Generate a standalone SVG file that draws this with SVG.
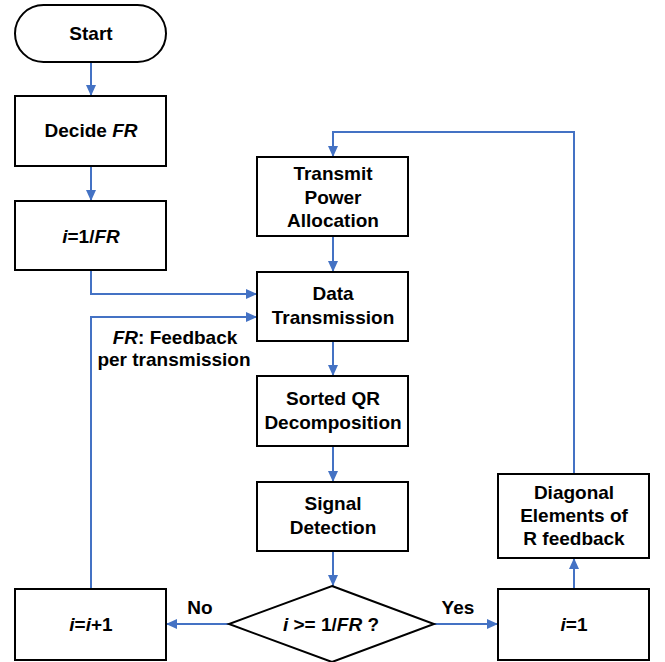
<svg xmlns="http://www.w3.org/2000/svg" width="665" height="662" viewBox="0 0 665 662">
<style>
.box{fill:#fff;stroke:#000;stroke-width:2}
.t{font-family:"Liberation Sans",Arial,sans-serif;font-weight:bold;font-size:19px;fill:#000;text-anchor:middle}
.it{font-style:italic}
.c{fill:none;stroke:#4472C4;stroke-width:2;marker-end:url(#ah)}
</style>
<defs>
<marker id="ah" markerUnits="userSpaceOnUse" markerWidth="12" markerHeight="12" viewBox="0 0 12 12" refX="11" refY="6" orient="auto">
<path d="M0,1 L11,6 L0,11 Z" fill="#4472C4"/>
</marker>
</defs>
<rect width="665" height="662" fill="#fff"/>
<g id="connectors">
<path class="c" d="M91,62 V96"/>
<path class="c" d="M91,166 V201"/>
<path class="c" d="M91,270 V294 H257"/>
<path class="c" d="M333,236 V272"/>
<path class="c" d="M333,341 V376"/>
<path class="c" d="M333,446 V482"/>
<path class="c" d="M333,551 V586"/>
<path class="c" d="M229,624 H166"/>
<path class="c" d="M434,624 H498"/>
<path class="c" d="M574,589 V558"/>
<path class="c" d="M574,474 V132 H333 V157"/>
<path class="c" d="M91,589 V317 H257"/>
</g>
<g id="start"><rect class="box" x="15" y="5" width="151" height="57" rx="28.5"/><text class="t" x="91" y="40">Start</text></g>
<g id="decide"><rect class="box" x="15" y="96" width="151" height="70"/><text class="t" x="91" y="137">Decide <tspan class="it">FR</tspan></text></g>
<g id="init"><rect class="box" x="15" y="201" width="151" height="69"/><text class="t" x="91" y="243"><tspan class="it">i</tspan>=1/<tspan class="it">FR</tspan></text></g>
<g id="transmit"><rect class="box" x="257" y="157" width="151" height="79"/><text class="t" x="333" y="180">Transmit</text><text class="t" x="333" y="203.5">Power</text><text class="t" x="333" y="227">Allocation</text></g>
<g id="data"><rect class="box" x="257" y="272" width="151" height="69"/><text class="t" x="333" y="300">Data</text><text class="t" x="333" y="324">Transmission</text></g>
<g id="sorted"><rect class="box" x="257" y="376" width="151" height="70"/><text class="t" x="333" y="405">Sorted QR</text><text class="t" x="333" y="429">Decomposition</text></g>
<g id="signal"><rect class="box" x="257" y="482" width="151" height="69"/><text class="t" x="333" y="510">Signal</text><text class="t" x="333" y="534">Detection</text></g>
<g id="decision"><polygon class="box" points="332,586 434,624 332,662 229,624"/><text class="t" x="331" y="631"><tspan class="it">i</tspan> &gt;= 1/<tspan class="it">FR</tspan> ?</text></g>
<g id="incr"><rect class="box" x="15" y="589" width="151" height="71"/><text class="t" x="91" y="631"><tspan class="it">i</tspan>=<tspan class="it">i</tspan>+1</text></g>
<g id="reset"><rect class="box" x="498" y="589" width="151" height="71"/><text class="t" x="574" y="631"><tspan class="it">i</tspan>=1</text></g>
<g id="diagonal"><rect class="box" x="498" y="474" width="151" height="84"/><text class="t" x="574" y="499">Diagonal</text><text class="t" x="574" y="522">Elements of</text><text class="t" x="574" y="545">R feedback</text></g>
<g id="labels">
<text class="t" x="175" y="344"><tspan class="it">FR</tspan>: Feedback</text>
<text class="t" x="174" y="366">per transmission</text>
<text class="t" x="200" y="614">No</text>
<text class="t" x="458" y="614">Yes</text>
</g>
</svg>
